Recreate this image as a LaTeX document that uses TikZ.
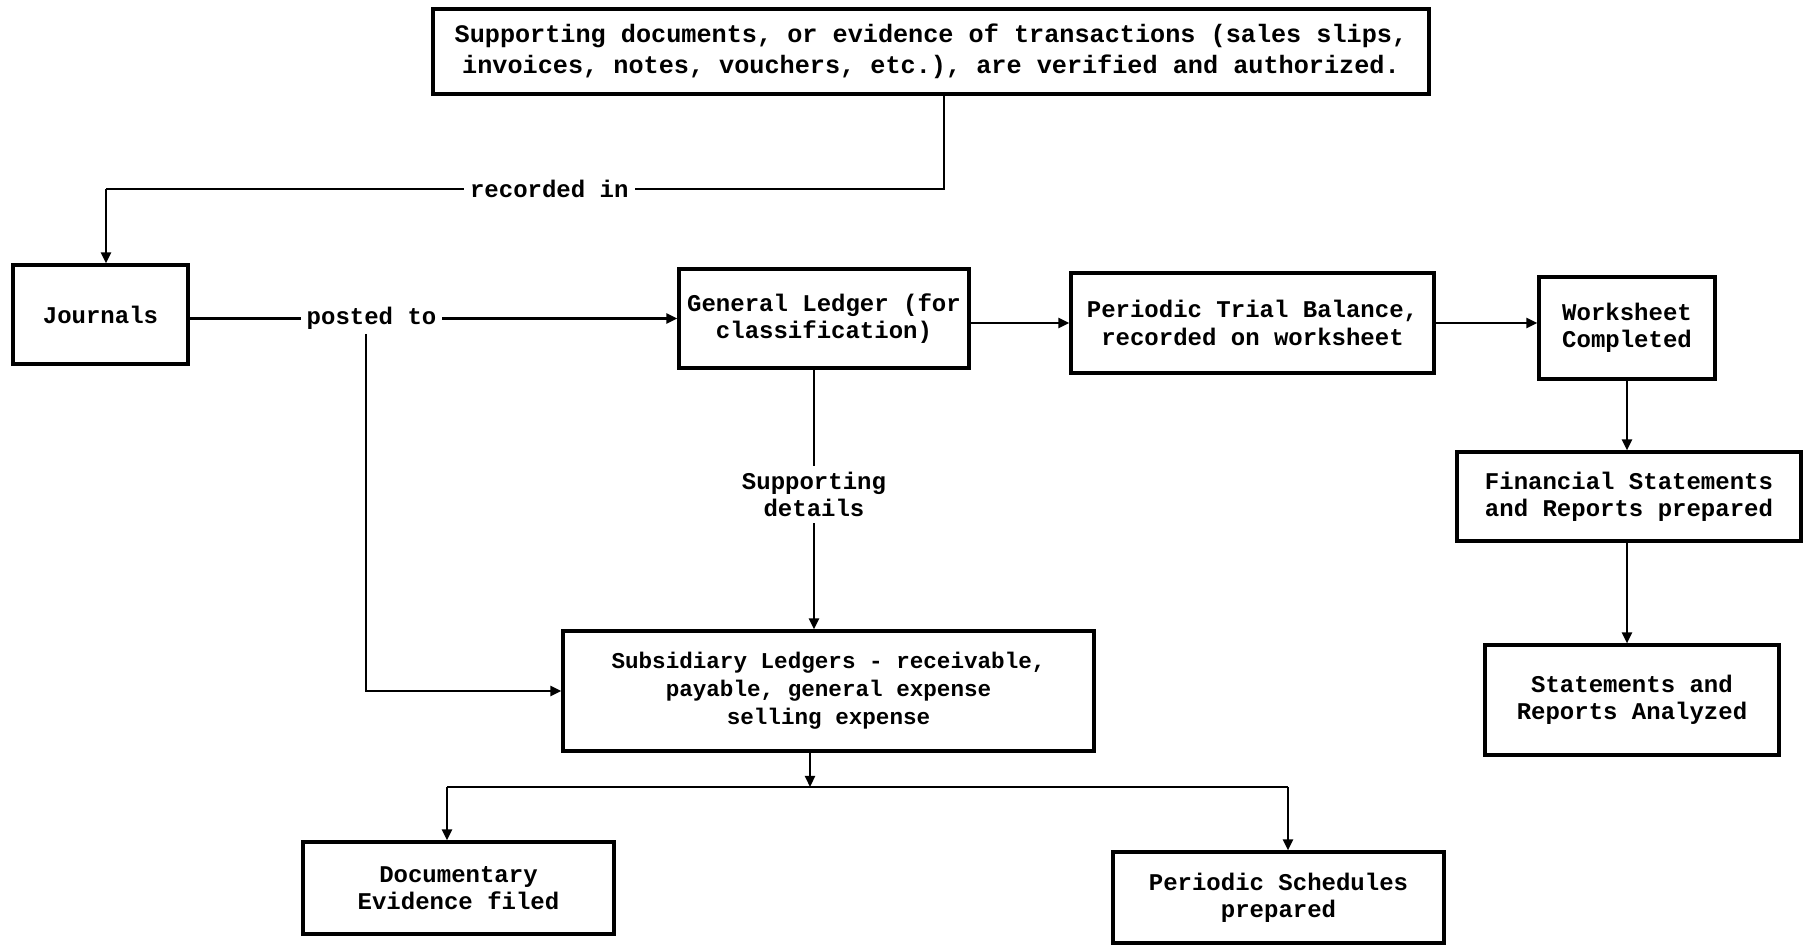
\documentclass[tikz,border=0pt]{standalone}
\usepackage{fontspec}
\setmonofont{Liberation Mono}
\usetikzlibrary{arrows.meta}
\tikzset{
  box/.style={draw, line width=1.6pt, rectangle, inner sep=0pt, align=center,
    font=\ttfamily\bfseries\fontsize{12}{13.6}\selectfont},
  conn/.style={line width=1.1pt},
  arr/.style={conn, -{Triangle[length=5.5pt,width=5pt]}},
  lbl/.style={fill=white, inner sep=3pt, align=center,
    font=\ttfamily\bfseries\fontsize{12}{13.8}\selectfont}
}
\begin{document}
\begin{tikzpicture}[x=0.5pt,y=-0.5pt]
\useasboundingbox (0,0) rectangle (1805,945);

% process boxes (centres and sizes in drawing units)
\node[box, minimum width=498pt, minimum height=42.5pt,
  font=\ttfamily\bfseries\fontsize{12.6}{15.5}\selectfont] (top) at (931,51.5)
  {Supporting documents, or evidence of transactions (sales slips,\\
   invoices, notes, vouchers, etc.), are verified and authorized.};
\node[box, minimum width=87.5pt, minimum height=49.5pt] (jour) at (100.5,314.5) {Journals};
\node[box, minimum width=145pt, minimum height=49.5pt] (gl) at (824,318.5)
  {General Ledger (for\\classification)};
\node[box, minimum width=181.5pt, minimum height=50pt] (ptb) at (1252.5,323)
  {Periodic Trial Balance,\\recorded on worksheet};
\node[box, minimum width=88pt, minimum height=51pt] (ws) at (1627,328)
  {Worksheet\\Completed};
\node[box, minimum width=172pt, minimum height=44.5pt] (fin) at (1629,496.5)
  {Financial Statements\\and Reports prepared};
\node[box, minimum width=147pt, minimum height=55pt] (ana) at (1632,700)
  {Statements and\\Reports Analyzed};
\node[box, minimum width=265.5pt, minimum height=60pt,
  font=\ttfamily\bfseries\fontsize{11.3}{14}\selectfont] (sub) at (828.5,691)
  {Subsidiary Ledgers - receivable,\\payable, general expense\\selling expense};
\node[box, minimum width=155.5pt, minimum height=46pt] (doc) at (458.5,888)
  {Documentary\\Evidence filed};
\node[box, minimum width=165.5pt, minimum height=45.5pt] (ps) at (1278.5,897.5)
  {Periodic Schedules\\prepared};

% routing points
\coordinate (rc) at (944,189);
\coordinate (rj) at (106,189);
\coordinate (pb) at (366,334);
\coordinate (gx) at (814,500);
\coordinate (jn) at (810,787);
\coordinate (dl) at (447,787);
\coordinate (dr) at (1288,787);

% documents recorded in journals
\draw[conn] (top.south -| rc) -- (rc)
  -- node[lbl, pos=0.471] {recorded in} (rj);
\draw[arr] (rj) -- (jour.north -| rj);

% journals posted to the ledgers
\draw[arr] (jour.east |- gl.west) -- node[lbl, pos=0.373] {posted to} (gl.west);
\draw[arr] (pb) |- (sub.west);

% general ledger to subsidiary ledgers
\draw[arr] (gl.south -| gx) -- node[lbl, pos=0.48] {Supporting\\details} (sub.north -| gx);

% main chain to the right
\draw[arr] (gl.east |- ptb.west) -- (ptb.west);
\draw[arr] (ptb.east) -- (ws.west |- ptb.east);
\draw[arr] (ws.south) -- (fin.north -| ws.south);
\draw[arr] (fin.south -| ws.south) -- (ana.north -| ws.south);

% subsidiary ledgers split to filing and schedules
\draw[arr] (sub.south -| jn) -- (jn);
\draw[conn] (dl) -- (dr);
\draw[arr] (dl) -- (doc.north -| dl);
\draw[arr] (dr) -- (ps.north -| dr);
\end{tikzpicture}
\end{document}
